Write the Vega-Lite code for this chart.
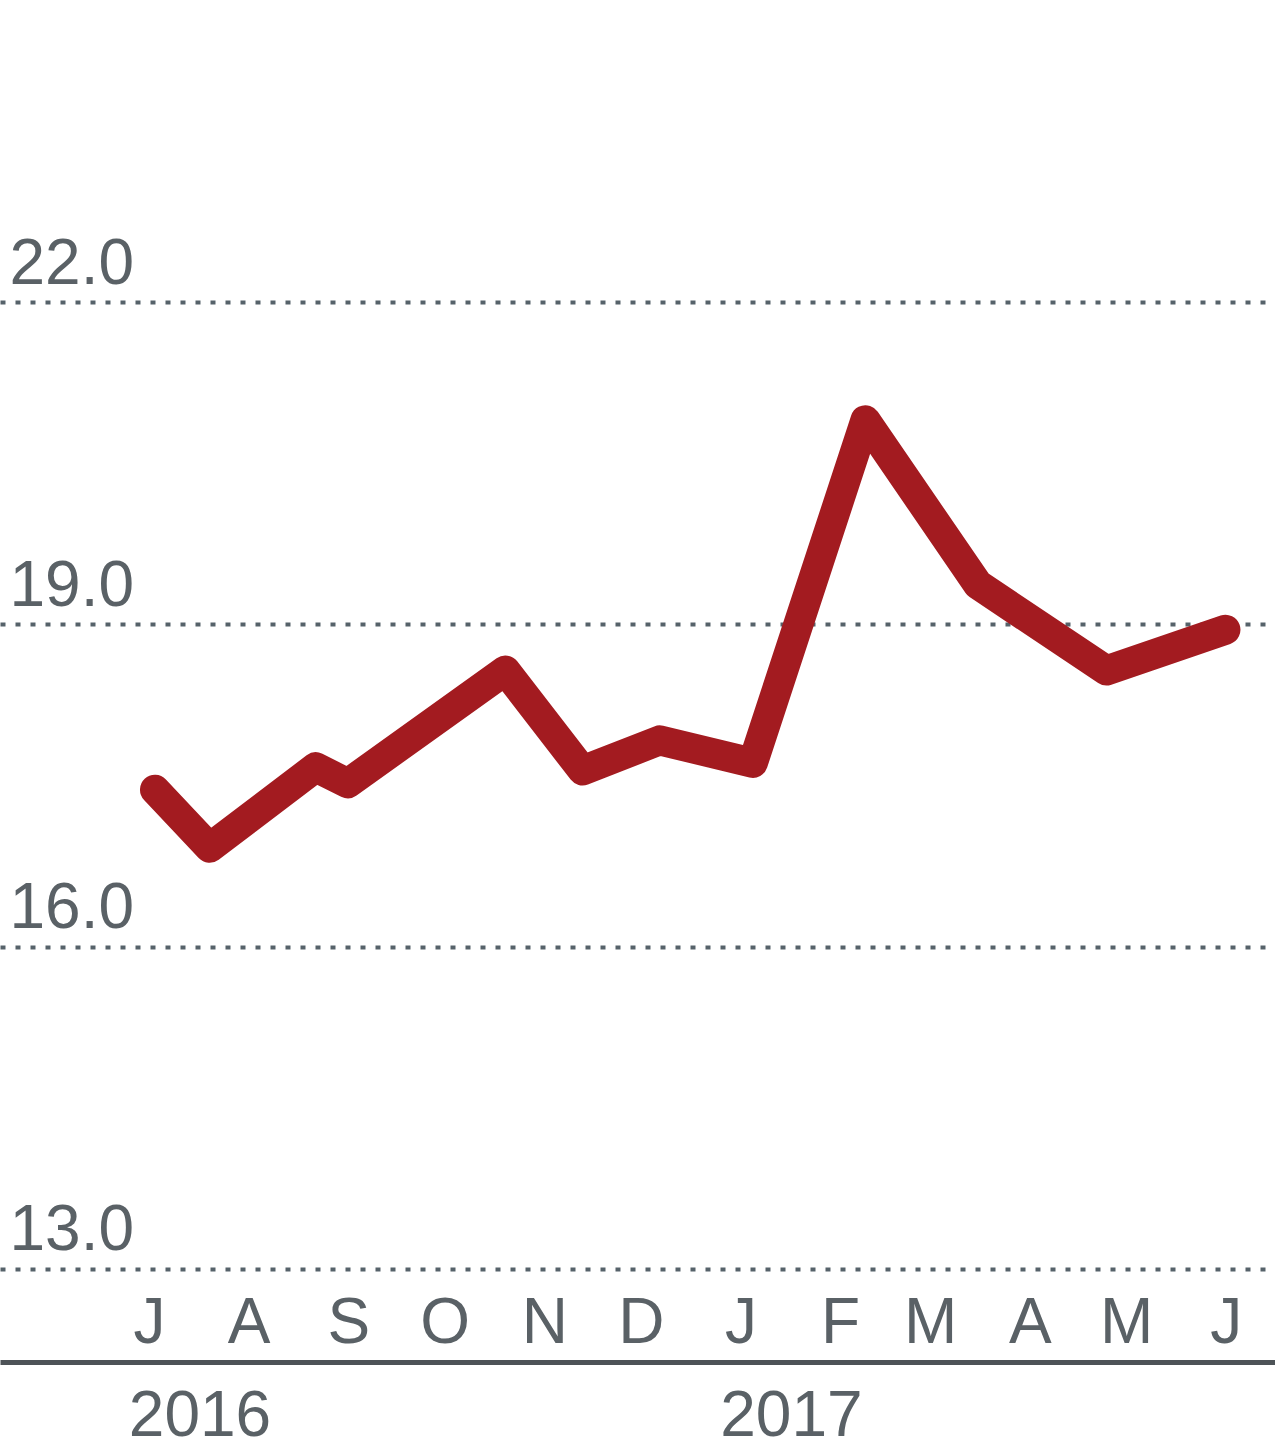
{
  "$schema": "https://vega.github.io/schema/vega-lite/v6.json",
  "width": 1275,
  "height": 1362,
  "autosize": {"type": "none"},
  "padding": {"left": 0, "top": 0, "right": 0, "bottom": 93},
  "background": "white",
  "config": {"view": {"stroke": null}, "font": "Liberation Sans"},
  "datasets": {
    "series": [
      {"date": "2016-07-01", "value": 17.46},
      {"date": "2016-07-18", "value": 16.92},
      {"date": "2016-08-20", "value": 17.67},
      {"date": "2016-08-30", "value": 17.52},
      {"date": "2016-10-18", "value": 18.57},
      {"date": "2016-11-11", "value": 17.64},
      {"date": "2016-12-05", "value": 17.92},
      {"date": "2017-01-03", "value": 17.71},
      {"date": "2017-02-07", "value": 20.90},
      {"date": "2017-03-14", "value": 19.37},
      {"date": "2017-04-23", "value": 18.57},
      {"date": "2017-05-30", "value": 18.95}
    ],
    "years": [
      {"date": "2016-07-15", "label": "2016"},
      {"date": "2017-01-15", "label": "2017"}
    ]
  },
  "layer": [
    {
      "data": {"name": "series"},
      "mark": {"type": "line", "color": "#a31b20", "strokeWidth": 30, "strokeCap": "round", "strokeJoin": "round"},
      "encoding": {
        "x": {
          "field": "date",
          "type": "temporal",
          "scale": {
            "type": "utc",
            "domain": [
              {"year": 2016, "month": 5, "date": 13, "hours": 19, "utc": true},
              {"year": 2017, "month": 6, "date": 14, "hours": 10, "utc": true}
            ]
          },
          "axis": {
            "orient": "bottom",
            "title": null,
            "values": [
              {"year": 2016, "month": 7, "date": 1, "utc": true},
              {"year": 2016, "month": 8, "date": 1, "utc": true},
              {"year": 2016, "month": 9, "date": 1, "utc": true},
              {"year": 2016, "month": 10, "date": 1, "utc": true},
              {"year": 2016, "month": 11, "date": 1, "utc": true},
              {"year": 2016, "month": 12, "date": 1, "utc": true},
              {"year": 2017, "month": 1, "date": 1, "utc": true},
              {"year": 2017, "month": 2, "date": 1, "utc": true},
              {"year": 2017, "month": 3, "date": 1, "utc": true},
              {"year": 2017, "month": 4, "date": 1, "utc": true},
              {"year": 2017, "month": 5, "date": 1, "utc": true},
              {"year": 2017, "month": 6, "date": 1, "utc": true}
            ],
            "labelExpr": "substring(utcFormat(datum.value, '%b'), 0, 1)",
            "grid": false,
            "ticks": false,
            "tickSize": 0,
            "domain": true,
            "domainColor": "#4d5357",
            "domainWidth": 5,
            "labelPadding": -20,
            "labelOffset": -6,
            "labelBaseline": "alphabetic",
            "labelFontSize": 64,
            "labelColor": "#5a6166",
            "labelFlush": false,
            "labelOverlap": false,
            "labelBound": false
          }
        },
        "y": {
          "field": "value",
          "type": "quantitative",
          "scale": {"domain": [12.134, 24.811], "nice": false, "zero": false},
          "axis": {
            "orient": "left",
            "title": null,
            "values": [13, 16, 19, 22],
            "format": ".1f",
            "grid": true,
            "gridDash": [5, 10],
            "gridColor": "#56626a",
            "gridWidth": 4,
            "domain": false,
            "ticks": false,
            "tickSize": 0,
            "labelAlign": "left",
            "labelBaseline": "alphabetic",
            "labelPadding": -9,
            "labelOffset": -19,
            "labelFontSize": 64,
            "labelColor": "#5a6166",
            "labelFlush": false,
            "labelOverlap": false,
            "labelBound": false
          }
        }
      }
    },
    {
      "data": {"name": "years"},
      "mark": {"type": "text", "fontSize": 64, "color": "#5a6166", "baseline": "alphabetic", "align": "center"},
      "encoding": {
        "x": {"field": "date", "type": "temporal"},
        "y": {"datum": 11.445},
        "text": {"field": "label"}
      }
    }
  ]
}
